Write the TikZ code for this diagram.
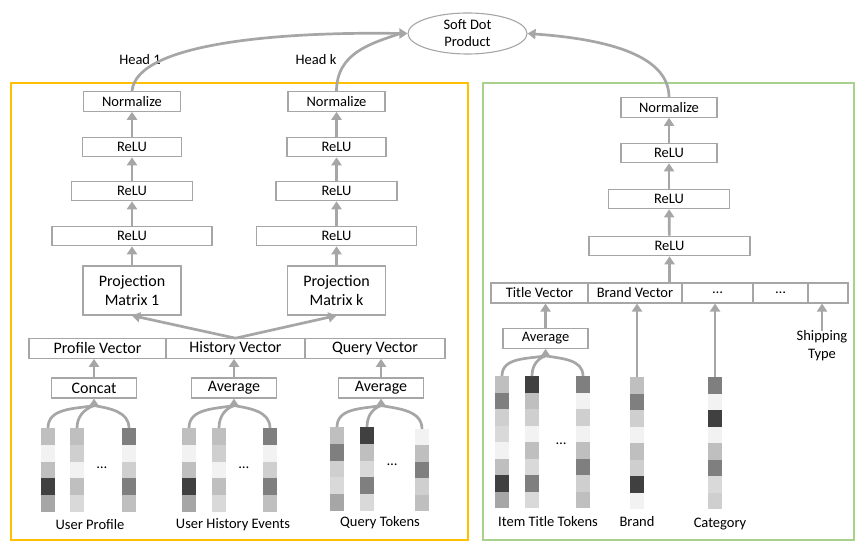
\documentclass[tikz,border=0pt]{standalone}
\usepackage{fontspec}
\setmainfont{Carlito}
\usetikzlibrary{shapes}
\usetikzlibrary{positioning}
\usetikzlibrary{arrows.meta}

\definecolor{lgray}{HTML}{A6A6A6}
\definecolor{gA}{HTML}{F2F2F2}
\definecolor{gB}{HTML}{D9D9D9}
\definecolor{gC}{HTML}{CFCFCF}
\definecolor{gD}{HTML}{BFBFBF}
\definecolor{gE}{HTML}{A6A6A6}
\definecolor{gF}{HTML}{7F7F7F}
\definecolor{gG}{HTML}{404040}
\definecolor{usercol}{HTML}{FFC000}
\definecolor{itemcol}{HTML}{A9D18E}

% name, x, top y, cell height, cell colours
\newcommand{\embcol}[5]{%
  \foreach \cc [count=\i from 0] in {#5} {
    \fill[\cc] (#2,#3+\i*#4) rectangle ++(14,#4);
  }
  \coordinate (#1) at (#2+7,#3);
}

\begin{document}
\begin{tikzpicture}[
    x=1pt, y=-1pt,
    font=\fontsize{14.5}{17}\selectfont
]
\tikzset{
    box/.style = {draw=lgray, line width=1.1, fill=white, inner sep=0, minimum height=19.5},
    bigbox/.style = {box, font=\fontsize{16}{19}\selectfont},
    lab/.style = {inner sep=0, align=center},
    arr/.style = {draw=lgray, line width=2.7, -{Triangle[length=8pt,width=10pt]}},
    link/.style = {draw=lgray, line width=2.7}
}
\useasboundingbox (0,0) rectangle (858,548);

\draw[usercol, line width=1.5] (11,83) rectangle (468,540);
\draw[itemcol, line width=1.5] (483,83) rectangle (854,540);

\node[ellipse, draw=lgray, line width=1.1, minimum width=119, minimum height=41, inner sep=0, align=center, font=\fontsize{14.5}{17}\selectfont] (dot) at (467.5,33.5) {Soft Dot\\Product};
\node[lab] (h1) at (140,60) {Head 1};
\node[lab] (hk) at (316,60) {Head k};

% user tower, head 1
\node[box, minimum width=97] (norm1) at (132,101.5) {Normalize};
\node[box, minimum width=99] (relu1a) at (132,147) {ReLU};
\node[box, minimum width=121] (relu1b) at (132,191) {ReLU};
\node[box, minimum width=160] (relu1c) at (132,236) {ReLU};
\node[bigbox, minimum width=98, minimum height=49, align=center] (proj1) at (132,290.5) {Projection\\Matrix 1};

% user tower, head k
\node[box, minimum width=97] (normk) at (336.5,101.5) {Normalize};
\node[box, minimum width=99] (reluka) at (336.5,147) {ReLU};
\node[box, minimum width=121] (relukb) at (336.5,191) {ReLU};
\node[box, minimum width=160] (relukc) at (336.5,236) {ReLU};
\node[bigbox, minimum width=98, minimum height=49, align=center] (projk) at (336.5,290.5) {Projection\\Matrix k};

\node[bigbox, minimum width=137] (prof) at (97.5,348.5) {Profile Vector};
\node[bigbox, minimum width=139] (hist) at (235.5,348.5) {History Vector};
\node[bigbox, minimum width=140] (query) at (375,348.5) {Query Vector};

\node[bigbox, minimum width=85, minimum height=20] (concat) at (94,388) {Concat};
\node[bigbox, minimum width=85, minimum height=20] (avgh) at (234,388) {Average};
\node[bigbox, minimum width=85, minimum height=20] (avgq) at (381,388) {Average};

\embcol{pu1}{41}{428}{16.8}{gD,gA,gD,gG,gE}
\embcol{pu2}{70}{428}{16.8}{gD,gC,gA,gD,gB}
\embcol{pu3}{122}{428}{16.8}{gF,gA,gC,gF,gD}
\node[lab] (pdots) at (102,468) {…};
\embcol{hu1}{182}{428}{16.8}{gD,gA,gD,gG,gE}
\embcol{hu2}{212}{428}{16.8}{gD,gC,gA,gD,gB}
\embcol{hu3}{263}{428}{16.8}{gF,gA,gC,gF,gD}
\node[lab] (hdots) at (244,468) {…};
\embcol{qu1}{330}{427}{16.8}{gD,gF,gC,gB,gE}
\embcol{qu2}{360}{427}{16.8}{gG,gD,gB,gF,gB}
\embcol{qu3}{415}{429}{16.4}{gA,gD,gF,gC,gD}
\node[lab] (qdots) at (392,465) {…};

\node[lab] (lup) at (90,525) {User Profile};
\node[lab] (luh) at (233,525) {User History Events};
\node[lab] (lqt) at (380,523) {Query Tokens};

% item tower
\node[box, minimum width=96] (normr) at (669,107.5) {Normalize};
\node[box, minimum width=96] (relura) at (669,153) {ReLU};
\node[box, minimum width=121] (relurb) at (669,199) {ReLU};
\node[box, minimum width=161] (relurc) at (669.5,246) {ReLU};

\node[box, minimum width=97, minimum height=20] (tvec) at (539.5,293) {Title Vector};
\node[box, minimum width=94, minimum height=20] (bvec) at (635,293) {Brand Vector};
\node[box, minimum width=71, minimum height=20] (evec) at (717.5,293) {…};
\node[box, minimum width=55, minimum height=20] (fvec) at (780.5,293) {…};
\node[box, minimum width=40, minimum height=20] (svec) at (828,293) {};

\node[box, minimum width=85] (avgt) at (545.5,338.5) {Average};
\node[lab, font=\fontsize{14.5}{18}\selectfont] (ship) at (822,346) {Shipping\\Type};

\embcol{it1}{495}{376}{16.5}{gD,gF,gC,gB,gA,gD,gG,gE}
\embcol{it2}{525}{376}{16.5}{gG,gD,gC,gA,gD,gB,gF,gB}
\embcol{it3}{576}{376}{16.5}{gF,gA,gC,gA,gD,gF,gC,gD}
\node[lab] (idots) at (561,444) {…};
\embcol{br}{630}{377}{16.5}{gD,gF,gC,gA,gD,gC,gG,gA}
\embcol{ca}{708}{377}{16.5}{gF,gA,gG,gA,gD,gF,gB,gC}

\node[lab] (lit) at (548,522) {Item Title Tokens};
\node[lab] (lbr) at (637,522) {Brand};
\node[lab] (lca) at (720,524) {Category};

% stacks
\draw[arr] (proj1) -- (relu1c);
\draw[arr] (relu1c) -- (relu1b);
\draw[arr] (relu1b) -- (relu1a);
\draw[arr] (relu1a) -- (norm1);
\draw[arr] (projk) -- (relukc);
\draw[arr] (relukc) -- (relukb);
\draw[arr] (relukb) -- (reluka);
\draw[arr] (reluka) -- (normk);
\draw[arr] (relurc) -- (relurb);
\draw[arr] (relurb) -- (relura);
\draw[arr] (relura) -- (normr);
\draw[arr] (relurc.south |- bvec.north) -- (relurc);

\draw[arr] (hist.north) -- (proj1.south);
\draw[arr] (hist.north) -- (projk.south);
\draw[arr] (concat.north) -- (concat.north |- prof.south);
\draw[arr] (avgh.north) -- (avgh.north |- hist.south);
\draw[arr] (avgq.north) -- (avgq.north |- query.south);
\draw[arr] (avgt.north) -- (avgt.north |- tvec.south);
\draw[arr] (br) -- (br |- bvec.south);
\draw[arr] (ca) -- (ca |- evec.south);
\draw[arr] (ship.north) -- (ship.north |- svec.south);

% token merges
\coordinate (mc) at ([yshift=-7]concat.south);
\draw[link] (pu1) to[out=90,in=190] (mc);
\draw[link] (pu2) to[out=90,in=200] (mc);
\draw[link] (pu3) to[out=90,in=-10] (mc);
\draw[arr] (mc) -- (concat);
\coordinate (mh) at ([yshift=-7]avgh.south);
\draw[link] (hu1) to[out=90,in=190] (mh);
\draw[link] (hu2) to[out=90,in=200] (mh);
\draw[link] (hu3) to[out=90,in=-10] (mh);
\draw[arr] (mh) -- (avgh);
\coordinate (mq) at ([yshift=-7]avgq.south);
\draw[link] (qu1) to[out=90,in=190] (mq);
\draw[link] (qu2) to[out=90,in=200] (mq);
\draw[link] (qu3) to[out=90,in=-10] (mq);
\draw[arr] (mq) -- (avgq);
\coordinate (mt) at ([yshift=-7]avgt.south);
\draw[link] (it1) to[out=90,in=190] (mt);
\draw[link] (it2) to[out=90,in=200] (mt);
\draw[link] (it3) to[out=90,in=-10] (mt);
\draw[arr] (mt) -- (avgt);

% heads to the dot product
\coordinate (hm) at ([xshift=-7]dot.west);
\draw[link] (norm1.north) .. controls +(4,-50) and +(-110,-2) .. (hm);
\draw[link] (normk.north) .. controls +(0,-38) and +(-30,10) .. (hm);
\draw[arr] (hm) -- (dot.west);
\draw[arr] (normr.north) .. controls +(0,-45) and +(70,5) .. (dot.east);
\end{tikzpicture}
\end{document}
